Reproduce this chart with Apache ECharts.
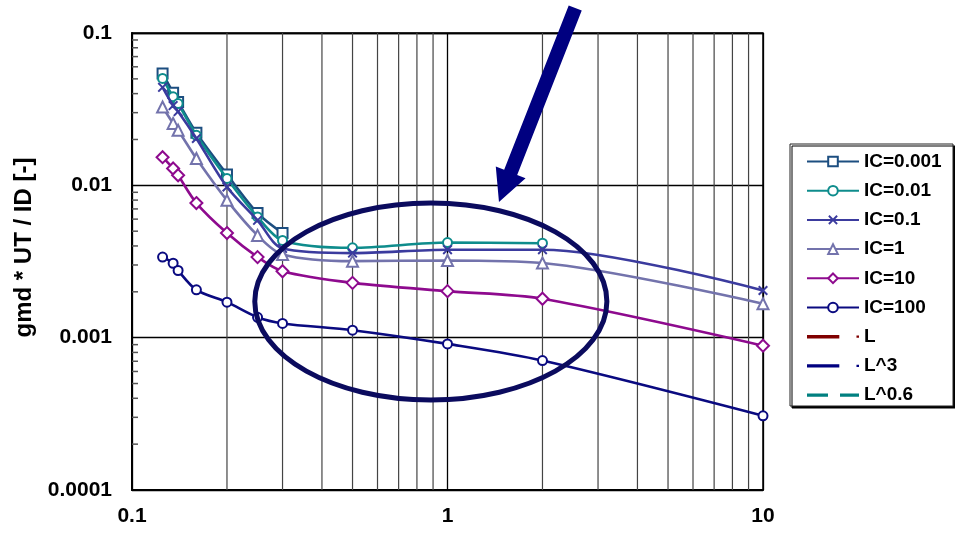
<!DOCTYPE html>
<html>
<head>
<meta charset="utf-8">
<script src="https://cdn.jsdelivr.net/npm/echarts@6/dist/echarts.min.js"></script>
<style>html,body{margin:0;padding:0;background:#fff}#c{width:955px;height:540px}</style>
</head>
<body>
<div id="c"></div>
<script>
// ---- data ----
var xValues = [0.125, 0.135, 0.14, 0.16, 0.2, 0.25, 0.3, 0.5, 1, 2, 10];
var ic0001 = [0.0543, 0.0405, 0.0353, 0.0221, 0.0118, 0.00657, 0.00486];
var ic001  = [0.0503, 0.0381, 0.0344, 0.0213, 0.0111, 0.0062, 0.00435, 0.00389, 0.00421, 0.00417];
var ic01   = [0.0440, 0.0334, 0.0305, 0.0203, 0.00975, 0.00589, 0.00385, 0.00359, 0.00378, 0.00378, 0.00204];
var ic1    = [0.0327, 0.0255, 0.0230, 0.0150, 0.00797, 0.00469, 0.00352, 0.00318, 0.00321, 0.00309, 0.00167];
var ic10   = [0.0153, 0.0129, 0.01164, 0.00765, 0.00486, 0.00338, 0.00273, 0.00229, 0.00202, 0.0018, 0.000886];
var ic100  = [0.00338, 0.00308, 0.00276, 0.00206, 0.00171, 0.00136, 0.00124, 0.00112, 0.00091, 0.000707, 0.000307];
var seriesNames = ['IC=0.001', 'IC=0.01', 'IC=0.1', 'IC=1', 'IC=10', 'IC=100', 'L', 'L^3', 'L^0.6'];
var xTickLabels = ['0.1', '1', '10'];
var yTickLabels = ['0.0001', '0.001', '0.01', '0.1'];
var minorX = [0.2, 0.3, 0.4, 0.5, 0.6, 0.7, 0.8, 0.9, 2, 3, 4, 5, 6, 7, 8, 9];
var minorY = [0.0002, 0.0003, 0.0004, 0.0005, 0.0006, 0.0007, 0.0008, 0.0009,
              0.002, 0.003, 0.004, 0.005, 0.006, 0.007, 0.008, 0.009,
              0.02, 0.03, 0.04, 0.05, 0.06, 0.07, 0.08, 0.09];
// annotation anchors in data space
var ellipseBox = {xLeft: 0.245, xRight: 3.2, yTop: 0.00766, yBottom: 0.00039};
var arrowTail = [2.54, 0.146];
var arrowTip = [1.456, 0.00776];

function pairs(vals) {
  var out = [];
  for (var i = 0; i < vals.length; i++) out.push([xValues[i], vals[i]]);
  return out;
}

var colors = ['#1C4E80', '#0E8C8C', '#3B3B9E', '#7373AC', '#8E0A8E', '#0A0A80', '#800000', '#000080', '#008080'];
var crossPath = 'path://M0,1.4L1.4,0L5,3.6L8.6,0L10,1.4L6.4,5L10,8.6L8.6,10L5,6.4L1.4,10L0,8.6L3.6,5Z';
var solidIcon = 'path://M0,0H32V3.4H0Z M49,0.6H51.5V2.8H49Z';
var dashIcon = 'path://M0,0H21V3.4H0Z M33,0H52V3.4H33Z';

function icSeries(idx, vals, symbol, size) {
  var c = colors[idx];
  var isCross = symbol === crossPath;
  return {
    name: seriesNames[idx], type: 'line', data: pairs(vals),
    smooth: 0.3, symbol: symbol, symbolSize: size, showAllSymbol: true,
    lineStyle: {color: c, width: 2.6},
    itemStyle: isCross ? {color: c, borderWidth: 0} : {color: c, borderColor: c, borderWidth: 1.8},
    z: 5 + idx
  };
}

var fam = 'Liberation Sans, Arial, sans-serif';
var chart = echarts.init(document.getElementById('c'), null, {renderer: 'canvas'});
var option = {
  animation: false,
  backgroundColor: '#fff',
  grid: {left: 132, top: 33, right: 192, bottom: 50, show: true, borderColor: '#000', borderWidth: 1.5, backgroundColor: 'transparent'},
  legend: {
    orient: 'vertical', left: 790, top: 144, padding: [8, 6, 6, 16],
    itemWidth: 52, itemHeight: 12, itemGap: 10.2, symbolKeepAspect: true,
    data: [
      {name: 'IC=0.001'}, {name: 'IC=0.01'}, {name: 'IC=0.1'}, {name: 'IC=1'}, {name: 'IC=10'}, {name: 'IC=100'},
      {name: 'L', icon: solidIcon}, {name: 'L^3', icon: solidIcon}, {name: 'L^0.6', icon: dashIcon}
    ],
    textStyle: {fontFamily: fam, fontWeight: 'bold', fontSize: 19, color: '#000', lineHeight: 18}
  },
  xAxis: {
    type: 'log', logBase: 10, min: 0.1, max: 10,
    axisLine: {show: true, lineStyle: {color: '#000', width: 2}},
    axisTick: {show: false},
    splitLine: {show: true, lineStyle: {color: '#000', width: 1.3}},
    axisLabel: {
      margin: 16, color: '#000', fontFamily: fam, fontWeight: 'bold', fontSize: 21,
      formatter: function (v) { return xTickLabels[Math.round(Math.log10(v)) + 1]; }
    }
  },
  yAxis: {
    type: 'log', logBase: 10, min: 0.0001, max: 0.1,
    name: 'gmd * UT / ID [-]', nameLocation: 'middle', nameRotate: 90, nameGap: 78,
    nameTextStyle: {fontFamily: fam, fontWeight: 'bold', fontSize: 24, color: '#000', padding: [0, 0, 0, 28]},
    axisLine: {show: true, lineStyle: {color: '#000', width: 2}},
    axisTick: {show: false},
    splitLine: {show: true, lineStyle: {color: '#000', width: 1.3}},
    axisLabel: {
      margin: 20, color: '#000', fontFamily: fam, fontWeight: 'bold', fontSize: 21,
      formatter: function (v) { return yTickLabels[Math.round(Math.log10(v)) + 4]; }
    }
  },
  series: [
    {
      type: 'custom', name: 'minorGridX', silent: true, z: 1,
      data: minorX.map(function (v) { return [v]; }),
      renderItem: function (params, api) {
        var cs = params.coordSys;
        var x = api.coord([api.value(0), 0.001])[0];
        return {type: 'line', shape: {x1: x, y1: cs.y, x2: x, y2: cs.y + cs.height}, style: {stroke: '#444', lineWidth: 1.2}};
      }
    },
    {
      type: 'custom', name: 'minorTickY', silent: true, z: 1,
      data: minorY.map(function (v) { return [0.1, v]; }),
      renderItem: function (params, api) {
        var cs = params.coordSys;
        var p = api.coord([0.1, api.value(1)]);
        return {type: 'line', shape: {x1: cs.x, y1: p[1], x2: cs.x + 6, y2: p[1]}, style: {stroke: '#555', lineWidth: 1.5}};
      }
    },
    icSeries(5, ic100, 'emptyCircle', 9),
    icSeries(4, ic10, 'emptyDiamond', 12),
    icSeries(3, ic1, 'emptyTriangle', 11),
    icSeries(2, ic01, crossPath, 10),
    icSeries(0, ic0001, 'emptyRect', 10),
    icSeries(1, ic001, 'emptyCircle', 9),
    {name: 'L', type: 'line', data: [], symbol: 'none', lineStyle: {color: colors[6], width: 3}, itemStyle: {color: colors[6]}},
    {name: 'L^3', type: 'line', data: [], symbol: 'none', lineStyle: {color: colors[7], width: 3}, itemStyle: {color: colors[7]}},
    {name: 'L^0.6', type: 'line', data: [], symbol: 'none', lineStyle: {color: colors[8], width: 3, type: [14, 12]}, itemStyle: {color: colors[8]}}
  ]
};
chart.setOption(option);

// annotations placed through the chart's own coordinate conversion
function px(p) { return chart.convertToPixel({gridIndex: 0}, p); }
var eL = px([ellipseBox.xLeft, 0.00177]), eR = px([ellipseBox.xRight, 0.00177]);
var eT = px([0.887, ellipseBox.yTop]), eB = px([0.887, ellipseBox.yBottom]);
var cx = (eL[0] + eR[0]) / 2, cy = (eT[1] + eB[1]) / 2;
var rx = (eR[0] - eL[0]) / 2, ry = (eB[1] - eT[1]) / 2;

var t = px(arrowTail), h = px(arrowTip);
var dx = h[0] - t[0], dy = h[1] - t[1], len = Math.sqrt(dx * dx + dy * dy);
var ux = dx / len, uy = dy / len, nx = -uy, ny = ux;
var headLen = 32, shaftHalf = 7, headHalf = 16;
var bx = h[0] - ux * headLen, by = h[1] - uy * headLen;
var arrowPts = [
  [t[0] + nx * shaftHalf, t[1] + ny * shaftHalf],
  [bx + nx * shaftHalf, by + ny * shaftHalf],
  [bx + nx * headHalf, by + ny * headHalf],
  [h[0], h[1]],
  [bx - nx * headHalf, by - ny * headHalf],
  [bx - nx * shaftHalf, by - ny * shaftHalf],
  [t[0] - nx * shaftHalf, t[1] - ny * shaftHalf]
];

chart.setOption({
  graphic: [
    {type: 'rect', shape: {x: 790, y: 144, width: 163, height: 262}, z: -1, silent: true,
     style: {fill: '#fff', stroke: '#222', lineWidth: 1, shadowColor: '#000', shadowBlur: 0, shadowOffsetX: 2, shadowOffsetY: 2}},
    {type: 'ellipse', shape: {cx: cx, cy: cy, rx: rx, ry: ry}, z: 100, silent: true,
     style: {fill: null, stroke: '#0B0B5E', lineWidth: 5}},
    {type: 'polygon', shape: {points: arrowPts}, z: 100, silent: true, style: {fill: '#000080'}}
  ]
});
</script>
</body>
</html>
